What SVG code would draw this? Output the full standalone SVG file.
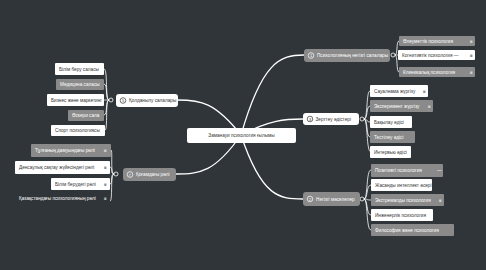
<svg xmlns="http://www.w3.org/2000/svg" width="486" height="270" viewBox="0 0 486 270">
<style>
text{font-family:"Liberation Sans","DejaVu Sans",sans-serif;font-size:4.7px;dominant-baseline:central}
.w rect{fill:#ffffff}
.w text{fill:#333333}
.g rect{fill:#8a8a8a}
.g text{fill:#ffffff}
.t text{fill:#ffffff}
.main{fill:none;stroke:#ffffff;stroke-width:1.3;stroke-linecap:round}
.sub{fill:none;stroke:#ffffff;stroke-width:0.8}
.dot{fill:#2f3539;stroke:#ffffff;stroke-width:0.8}
.ic{fill:none;stroke-width:0.7}
.w .ic{stroke:#333333}
.g .ic{stroke:#ffffff}
.ico{font-size:4px;text-anchor:middle}
</style>
<rect width="486" height="270" fill="#2f3539"/>
<g id="connectors">
<path class="main" d="M241,135 C262,62 280,55 304,55"/>
<path class="main" d="M241,135 C270,120 285,119 303,119"/>
<path class="main" d="M241,135 C262,198 280,199 303,199"/>
<path class="main" d="M241,135 C215,102 200,100 178,100"/>
<path class="main" d="M241,135 C215,172 200,174 176,174"/>
<path class="sub" d="M395,55 C398,55 396,41 399,41"/>
<path class="sub" d="M395,55 C398,55 396,55 398,55"/>
<path class="sub" d="M395,55 C398,55 396,72 399,72"/>
<path class="sub" d="M364,119 C368,119 366,91 370,91"/>
<path class="sub" d="M364,119 C368,119 366,106 370,106"/>
<path class="sub" d="M364,119 C368,119 366,122 370,122"/>
<path class="sub" d="M364,119 C368,119 366,137 370,137"/>
<path class="sub" d="M364,119 C368,119 366,152 371,152"/>
<path class="sub" d="M364,199 C368,199 366,170 371,170"/>
<path class="sub" d="M364,199 C368,199 366,185 371,185"/>
<path class="sub" d="M364,199 C368,199 366,200 371,200"/>
<path class="sub" d="M364,199 C368,199 366,215 371,215"/>
<path class="sub" d="M364,199 C368,199 366,230 371,230"/>
<path class="sub" d="M109,100 C105,100 108,69 104,69"/>
<path class="sub" d="M109,100 C105,100 108,84 104,84"/>
<path class="sub" d="M109,100 C105,100 106,100 104,100"/>
<path class="sub" d="M109,100 C105,100 108,115 104,115"/>
<path class="sub" d="M109,100 C105,100 108,130 105,130"/>
<path class="sub" d="M114,174 C110,174 113,150 111,150"/>
<path class="sub" d="M114,174 C110,174 113,167 110,167"/>
<path class="sub" d="M114,174 C110,174 113,184 110,184"/>
<path class="sub" d="M114,174 C110,174 113,201 110,201"/>
<circle class="dot" cx="393" cy="55" r="2"/>
<circle class="dot" cx="362" cy="119" r="2"/>
<circle class="dot" cx="362" cy="199" r="2"/>
<circle class="dot" cx="111" cy="100" r="2"/>
<circle class="dot" cx="116" cy="174" r="2"/>
</g>
<g id="root" class="w"><rect x="187" y="128" width="109" height="15" rx="2"/><text x="241.5" y="135.5" text-anchor="middle" font-size="6.6">Заманауи психология ғылымы</text></g>

<g id="n1" class="g"><rect x="304" y="49" width="86" height="13" rx="3"/><circle class="ic" cx="311" cy="55.5" r="2.8"/><text class="ico" x="311" y="55.7">1</text><text x="317" y="55.5">Психологияның негізгі салалары</text></g>
<g id="n1a" class="g"><rect x="399" y="36" width="76" height="10" rx="1"/><text x="403" y="41">Әлеуметтік психология</text><text x="470" y="41">≡</text></g>
<g id="n1b" class="w"><rect x="398" y="50" width="77" height="10" rx="1"/><text x="402" y="55">Когнитивтік психология —</text><text x="470" y="55">≡</text></g>
<g id="n1c" class="g"><rect x="399" y="67" width="76" height="10" rx="1"/><text x="403" y="72">Клиникалық психология</text><text x="470" y="72">≡</text></g>

<g id="n3" class="w"><rect x="303" y="113" width="56" height="12" rx="3"/><circle class="ic" cx="310" cy="119" r="2.8"/><text class="ico" x="310" y="119.2">3</text><text x="315.5" y="119">Зерттеу әдістері</text></g>
<g id="n3a" class="w"><rect x="370" y="85" width="58" height="12" rx="1"/><text x="374" y="91">Сауалнама жүргізу</text><text x="423" y="91">≡</text></g>
<g id="n3b" class="g"><rect x="370" y="100" width="63" height="12" rx="1"/><text x="374" y="106">Эксперимент жүргізу</text><text x="428" y="106">≡</text></g>
<g id="n3c" class="w"><rect x="370" y="116" width="42" height="12" rx="1"/><text x="374" y="122">Бақылау әдісі</text></g>
<g id="n3d" class="g"><rect x="370" y="131" width="45" height="12" rx="1"/><text x="374" y="137">Тестілеу әдісі</text></g>
<g id="n3e" class="w"><rect x="370" y="146" width="41" height="12" rx="1"/><text x="374" y="152">Интервью әдісі</text></g>

<g id="n2" class="g"><rect x="303" y="192" width="57" height="14" rx="3"/><circle class="ic" cx="310" cy="199" r="2.8"/><text class="ico" x="310" y="199.2">2</text><text x="316" y="199">Негізгі мәселелер</text></g>
<g id="n2a" class="g"><rect x="371" y="164" width="72" height="13" rx="1"/><text x="375" y="170.5">Позитивті психология</text><text x="437" y="170.5">—</text></g>
<g id="n2b" class="w"><rect x="371" y="179" width="61" height="12" rx="1"/><text x="375" y="185">Жасанды интеллект әсері</text></g>
<g id="n2c" class="g"><rect x="371" y="194" width="73" height="12" rx="1"/><text x="375" y="200">Экстремалды психология</text><text x="439" y="200">≡</text></g>
<g id="n2d" class="w"><rect x="371" y="209" width="62" height="12" rx="1"/><text x="375" y="215">Инженерлік психология</text></g>
<g id="n2e" class="g"><rect x="371" y="224" width="83" height="12" rx="1"/><text x="375" y="230">Философия және психология</text></g>

<g id="n5" class="w"><rect x="116" y="94" width="62" height="13" rx="3"/><circle class="ic" cx="123" cy="100.5" r="2.8"/><text class="ico" x="123" y="100.7">5</text><text x="129" y="100.5">Қолданылу салалары</text></g>
<g id="n5a" class="w"><rect x="55" y="63" width="49" height="12" rx="1"/><text x="59" y="69">Білім беру саласы</text></g>
<g id="n5b" class="g"><rect x="56" y="79" width="48" height="11" rx="1"/><text x="60" y="84.5">Медицина саласы</text></g>
<g id="n5c" class="w"><rect x="47" y="94" width="57" height="12" rx="1"/><text x="51" y="100">Бизнес және маркетинг</text></g>
<g id="n5d" class="g"><rect x="68" y="110" width="36" height="11" rx="1"/><text x="72" y="115.5">Әскери сала</text></g>
<g id="n5e" class="w"><rect x="51" y="125" width="54" height="11" rx="1"/><text x="55" y="130.5">Спорт психологиясы</text></g>

<g id="n4" class="g"><rect x="123" y="168" width="53" height="13" rx="3"/><circle class="ic" cx="130" cy="174.5" r="2.8"/><text class="ico" x="130" y="174.7">✓</text><text x="136" y="174.5">Қоғамдағы рөлі</text></g>
<g id="n4a" class="g"><rect x="31" y="144" width="80" height="13" rx="1"/><text x="35" y="150.5">Тұлғаның дамуындағы рөлі</text><text x="104" y="150.5">≡</text></g>
<g id="n4b" class="w"><rect x="15" y="161" width="95" height="13" rx="1"/><text x="19" y="167.5">Денсаулық сақтау жүйесіндегі рөлі</text><text x="104" y="167.5">≡</text></g>
<g id="n4c" class="w"><rect x="51" y="178" width="59" height="12" rx="1"/><text x="55" y="184">Білім берудегі рөлі</text><text x="104" y="184">≡</text></g>
<g id="n4d" class="t"><text x="19" y="198">Қазақстандағы психологияның рөлі</text><text x="104" y="198">≡</text></g>
</svg>
